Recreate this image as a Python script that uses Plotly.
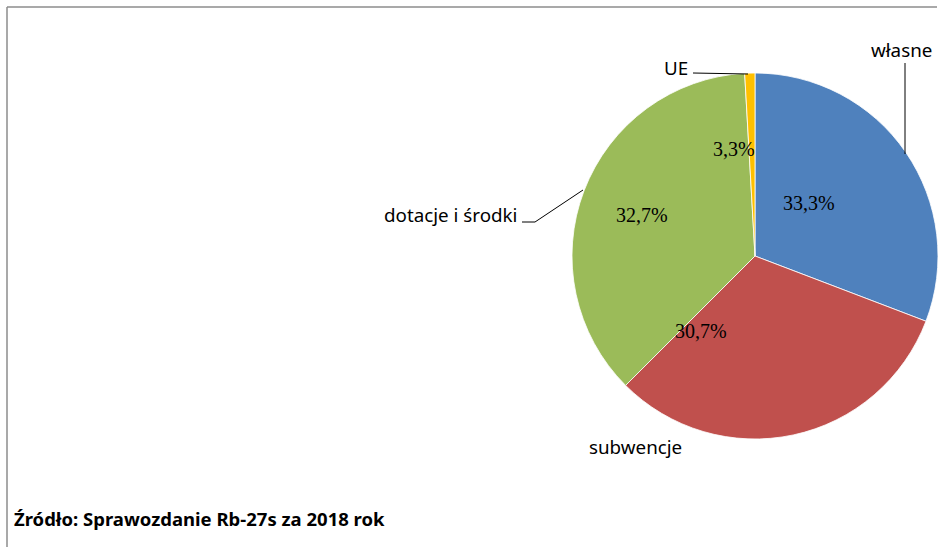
import plotly.graph_objects as go

W, H = 938, 547

# Data
categories = ["własne", "subwencje", "dotacje i środki", "UE"]
slice_values = [30.8, 31.7, 36.6, 0.9]          # slice sizes as drawn
share_labels = ["33,3%", "30,7%", "32,7%", "3,3%"]  # printed data labels
colors = ["#4F81BD", "#C0504D", "#9BBB59", "#FFC000"]
source_text = "Źródło: Sprawozdanie Rb-27s za 2018 rok"


def px(x):
    return x / W


def py(y):
    return 1 - y / H


cx, cy, r = 755, 256, 183

fig = go.Figure(go.Pie(
    labels=categories,
    values=slice_values,
    sort=False,
    direction="clockwise",
    rotation=0,
    marker=dict(colors=colors, line=dict(color="white", width=0.8)),
    textinfo="none",
    hoverinfo="label",
    domain=dict(x=[px(cx - r), px(cx + r)], y=[py(cy + r), py(cy - r)]),
    showlegend=False,
))

# data label positions (pixel centres)
data_label_pos = [(809, 203), (701, 331), (642, 215), (734, 149)]
for txt, (x, y) in zip(share_labels, data_label_pos):
    fig.add_annotation(x=px(x), y=py(y), xref="paper", yref="paper",
                       text=txt, showarrow=False,
                       xanchor="center", yanchor="middle",
                       font=dict(family="Liberation Serif", size=20, color="black"))

# category labels
cat_label_pos = [(901, 50, "center"), (635, 447, "center"),
                 (519, 215, "right"), (690, 68, "right")]
for txt, (x, y, anchor) in zip(categories, cat_label_pos):
    fig.add_annotation(x=px(x), y=py(y), xref="paper", yref="paper",
                       text=txt, showarrow=False,
                       xanchor=anchor, yanchor="middle",
                       font=dict(family="Noto Sans", size=18.8, color="black"))

# leader lines
leaders = [
    [(905, 63), (905, 154)],
    [(522, 222), (535, 222), (583, 190)],
    [(693, 73), (748, 74)],
]
for pts in leaders:
    for (x0, y0), (x1, y1) in zip(pts[:-1], pts[1:]):
        fig.add_shape(type="line", xref="paper", yref="paper",
                      x0=px(x0), y0=py(y0), x1=px(x1), y1=py(y1),
                      line=dict(color="black", width=1))

# frame (top and left)
fig.add_shape(type="line", xref="paper", yref="paper",
              x0=px(7), y0=py(7), x1=px(937), y1=py(7),
              line=dict(color="#8c8c8c", width=1.5))
fig.add_shape(type="line", xref="paper", yref="paper",
              x0=px(7), y0=py(7), x1=px(7), y1=py(547),
              line=dict(color="#8c8c8c", width=1.5))

# source
fig.add_annotation(x=px(12), y=py(518), xref="paper", yref="paper",
                   text="<b>" + source_text + "</b>", showarrow=False,
                   xanchor="left", yanchor="middle",
                   font=dict(family="Noto Sans", size=18.5, color="black"))

fig.update_layout(
    width=W, height=H,
    margin=dict(l=0, r=0, t=0, b=0),
    paper_bgcolor="white",
    plot_bgcolor="white",
)

fig.write_html(
    "out.html",
    config={"displayModeBar": False},
    post_script="document.body.style.margin='0';document.body.style.overflow='hidden';",
)
